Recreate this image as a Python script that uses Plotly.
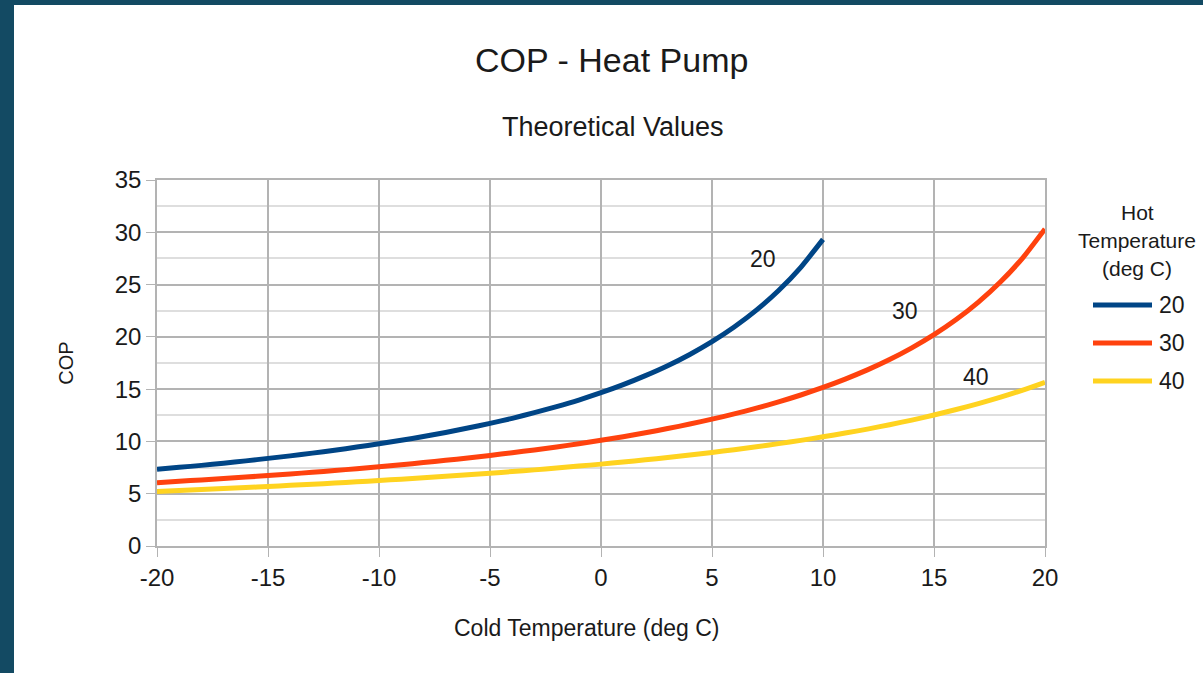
import plotly.graph_objects as go

# ---- data ----
cold_temp_20 = list(range(-20, 11))
cop_hot_20 = [7.33, 7.52, 7.71, 7.92, 8.14, 8.38, 8.62, 8.88, 9.16, 9.46, 9.77,
              10.11, 10.47, 10.86, 11.28, 11.73, 12.21, 12.75, 13.33, 13.96, 14.66,
              15.43, 16.29, 17.24, 18.32, 19.54, 20.94, 22.55, 24.43, 26.65, 29.32]

cold_temp_30 = list(range(-20, 21))
cop_hot_30 = [6.06, 6.19, 6.32, 6.45, 6.59, 6.74, 6.89, 7.05, 7.22, 7.39, 7.58,
              7.77, 7.98, 8.19, 8.42, 8.66, 8.92, 9.19, 9.47, 9.78, 10.11,
              10.45, 10.83, 11.23, 11.66, 12.13, 12.63, 13.18, 13.78, 14.44, 15.16,
              15.96, 16.84, 17.83, 18.95, 20.21, 21.65, 23.32, 25.26, 27.56, 30.32]

cold_temp_40 = list(range(-20, 21))
cop_hot_40 = [5.22, 5.31, 5.40, 5.49, 5.59, 5.69, 5.80, 5.91, 6.02, 6.14, 6.26,
              6.39, 6.52, 6.66, 6.81, 6.96, 7.12, 7.28, 7.46, 7.64, 7.83,
              8.03, 8.24, 8.46, 8.70, 8.95, 9.21, 9.49, 9.79, 10.10, 10.44,
              10.80, 11.18, 11.60, 12.04, 12.53, 13.05, 13.62, 14.23, 14.91, 15.66]

series_names = ["20", "30", "40"]
series_colors = ["#004586", "#ff420e", "#ffd320"]
label_pos_x = [7.3, 13.7, 16.9]
label_pos_y = [27.4, 22.5, 16.2]

x_ticks = [-20, -15, -10, -5, 0, 5, 10, 15, 20]
x_tick_labels = ["-20", "-15", "-10", "-5", "0", "5", "10", "15", "20"]
y_ticks = [0, 5, 10, 15, 20, 25, 30, 35]

# ---- layout geometry (pixels) ----
W, H = 1203, 673
L, R, T, B = 157, 1045, 180, 546
PW, PH = R - L, B - T


def px_x(px):
    return (px - L) / PW


def px_y(py):
    return (B - py) / PH


FONT = "Liberation Sans, Arial, sans-serif"
TXT = "#1a1a1a"

fig = go.Figure()
xs = [cold_temp_20, cold_temp_30, cold_temp_40]
ys = [cop_hot_20, cop_hot_30, cop_hot_40]
for name, color, x, y in zip(series_names, series_colors, xs, ys):
    fig.add_trace(go.Scatter(x=x, y=y, mode="lines", name=name,
                             line=dict(color=color, width=5, shape="spline", smoothing=0.6),
                             showlegend=False))

# curve labels
for name, lx, ly in zip(series_names, label_pos_x, label_pos_y):
    fig.add_annotation(x=lx, y=ly, text=name, showarrow=False,
                       xanchor="center", yanchor="middle",
                       font=dict(family=FONT, size=23, color=TXT))

shapes = [
    dict(type="rect", xref="paper", yref="paper", layer="below",
         x0=px_x(14), x1=px_x(W + 5), y0=px_y(H + 5), y1=px_y(5),
         fillcolor="white", line=dict(width=0)),
]

# title and subtitle
fig.add_annotation(xref="paper", yref="paper", x=px_x(611), y=px_y(60),
                   xanchor="center", yanchor="middle",
                   text="COP - Heat Pump", showarrow=False,
                   font=dict(family=FONT, size=34, color=TXT))
fig.add_annotation(xref="paper", yref="paper", x=px_x(613), y=px_y(127),
                   xanchor="center", yanchor="middle",
                   text="Theoretical Values", showarrow=False,
                   font=dict(family=FONT, size=27, color=TXT))

# x-axis title (placed as in the reference, slightly left of the plot centre)
fig.add_annotation(xref="paper", yref="paper", x=px_x(586), y=px_y(628),
                   xanchor="center", yanchor="middle",
                   text="Cold Temperature (deg C)", showarrow=False,
                   font=dict(family=FONT, size=23, color=TXT))

# legend (drawn manually to match the long legend keys)
for i, line in enumerate(["Hot", "Temperature", "(deg C)"]):
    fig.add_annotation(xref="paper", yref="paper", x=px_x(1137), y=px_y(212 + 28 * i),
                       xanchor="center", yanchor="middle",
                       text=line, showarrow=False,
                       font=dict(family=FONT, size=21, color=TXT))
for i, (name, color) in enumerate(zip(series_names, series_colors)):
    yy = 305 + 38 * i
    shapes.append(dict(type="line", xref="paper", yref="paper",
                       x0=px_x(1093), x1=px_x(1152), y0=px_y(yy), y1=px_y(yy),
                       line=dict(color=color, width=5)))
    fig.add_annotation(xref="paper", yref="paper", x=px_x(1157), y=px_y(yy),
                       xanchor="left", yanchor="middle", text=name, showarrow=False,
                       font=dict(family=FONT, size=23, color=TXT))

fig.update_layout(
    width=W, height=H,
    margin=dict(l=L, r=W - R, t=T, b=H - B, autoexpand=False),
    paper_bgcolor="#134a63",
    plot_bgcolor="white",
    shapes=shapes,
    showlegend=False,
    font=dict(family=FONT, color=TXT),
)
fig.update_xaxes(
    range=[-20, 20], tickvals=x_ticks, ticktext=x_tick_labels,
    ticks="outside", ticklen=9,
    tickcolor="#b3b3b3", gridcolor="#b3b3b3", gridwidth=1.5, zeroline=False,
    showline=True, linecolor="#b3b3b3", linewidth=1.5, mirror=True,
    tickfont=dict(family=FONT, size=24, color=TXT),
    automargin=False,
)
fig.update_yaxes(
    range=[0, 35], tickvals=y_ticks, ticks="outside", ticklen=9,
    tickcolor="#b3b3b3", gridcolor="#b3b3b3", gridwidth=1.5, zeroline=False,
    showline=True, linecolor="#b3b3b3", linewidth=1.5, mirror=True,
    minor=dict(dtick=2.5, showgrid=True, gridcolor="#dedede", gridwidth=1.5, ticks=""),
    tickfont=dict(family=FONT, size=24, color=TXT),
    title=dict(text="COP", standoff=36,
               font=dict(family=FONT, size=20, color=TXT)),
    automargin=False,
)

fig.write_html("out.html", config={"displayModeBar": False},
               post_script="document.body.style.margin='0';")
